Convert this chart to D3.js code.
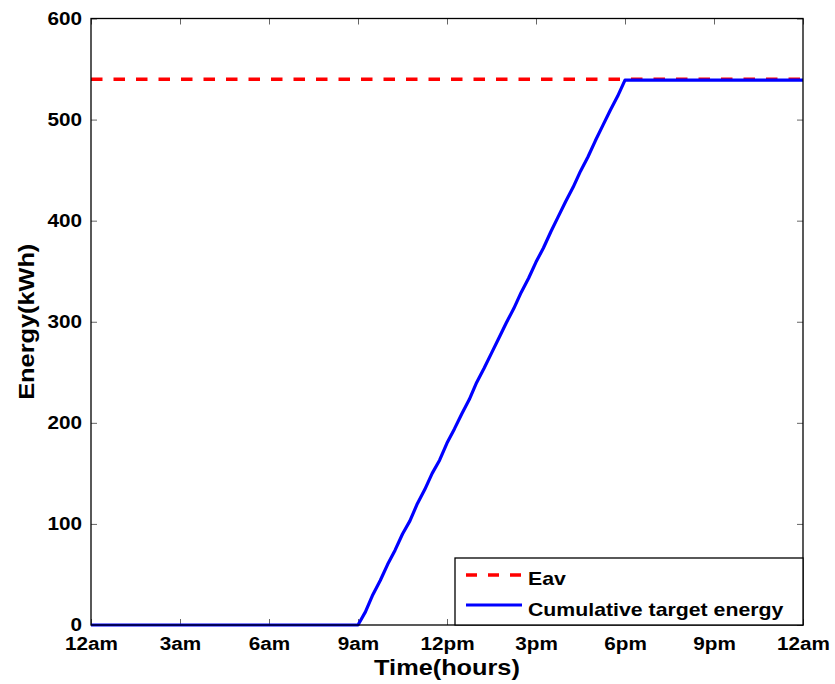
<!DOCTYPE html>
<html><head><meta charset="utf-8">
<script src="https://cdn.jsdelivr.net/npm/d3@7/dist/d3.min.js"></script>
<style>body{margin:0;background:#fff}svg{display:block}text{font-family:"Liberation Sans",Arial,sans-serif;font-weight:bold}</style>
</head><body>
<script>
// Data
const hours = [0, 3, 6, 9, 9.25, 9.5, 9.75, 10, 10.25, 10.5, 10.75, 11, 11.25, 11.5, 11.75, 12, 12.25, 12.5, 12.75, 13, 13.25, 13.5, 13.75, 14, 14.25, 14.5, 14.75, 15, 15.25, 15.5, 15.75, 16, 16.25, 16.5, 16.75, 17, 17.25, 17.5, 17.75, 18, 21, 24];
const cumulative = [0, 0, 0, 0, 13, 30, 44, 60, 74, 90, 103, 120, 134, 150, 163, 180, 194, 209, 223, 240, 254, 269, 284, 299, 313, 329, 343, 359, 373, 389, 404, 419, 433, 449, 463, 479, 494, 509, 523, 539, 539, 539];
const eav = 540;
const xTickValues = [0, 3, 6, 9, 12, 15, 18, 21, 24];
const xTickLabels = ["12am", "3am", "6am", "9am", "12pm", "3pm", "6pm", "9pm", "12am"];
const yTickValues = [0, 100, 200, 300, 400, 500, 600];
const seriesNames = ["Eav", "Cumulative target energy"];

const W = 835, H = 684;
const m = {left: 91, right: 32, top: 18.5, bottom: 59};
const STRETCH = 1.15;
const svg = d3.select("body").append("svg").attr("width", W).attr("height", H);
const x = d3.scaleLinear().domain([0, 24]).range([m.left, W - m.right]);
const y = d3.scaleLinear().domain([0, 600]).range([H - m.bottom, m.top]);

function stretch(sel) {
  sel.each(function() {
    const len = this.getComputedTextLength();
    d3.select(this).attr("textLength", len * STRETCH).attr("lengthAdjust", "spacingAndGlyphs");
  });
}

const g = svg.append("g");
const tickLen = 6;
const bottomAx = d3.axisBottom(x).tickValues(xTickValues).tickSize(-tickLen).tickFormat((d, i) => xTickLabels[i]);
const topAx = d3.axisTop(x).tickValues(xTickValues).tickSize(-tickLen).tickFormat("");
const leftAx = d3.axisLeft(y).tickValues(yTickValues).tickSize(-tickLen).tickFormat(d3.format("d")).tickPadding(9);
const rightAx = d3.axisRight(y).tickValues(yTickValues).tickSize(-tickLen).tickFormat("");

function styleAxis(sel) {
  sel.select(".domain").remove();
  sel.selectAll(".tick line").attr("stroke", "#666").attr("stroke-width", 1);
  sel.selectAll(".tick text").attr("fill", "#000").style("font-size", "18px").style("font-weight", "bold");
}
const gb = g.append("g").attr("transform", `translate(0,${y(0)})`).call(bottomAx).call(styleAxis);
gb.selectAll(".tick text").attr("y", 650 - y(0)).attr("dy", 0);
g.append("g").attr("transform", `translate(0,${y(600)})`).call(topAx).call(styleAxis);
g.append("g").attr("transform", `translate(${x(0)},0)`).call(leftAx).call(styleAxis);
g.append("g").attr("transform", `translate(${x(24)},0)`).call(rightAx).call(styleAxis);
g.selectAll(".tick text").filter(function(){return this.textContent !== "";}).call(stretch);

// Eav line
svg.append("line").attr("x1", x(0)).attr("x2", x(24)).attr("y1", y(eav)).attr("y2", y(eav))
  .attr("stroke", "#ff0000").attr("stroke-width", 3.5).attr("stroke-dasharray", "11.5,11");

// cumulative line
const line = d3.line().x((d, i) => x(hours[i])).y(d => y(d));
svg.append("path").datum(cumulative).attr("d", line).attr("fill", "none")
  .attr("stroke", "#0000ff").attr("stroke-width", 3.2).attr("stroke-linejoin", "round");

// frame
svg.append("rect").attr("x", x(0)).attr("y", y(600)).attr("width", x(24) - x(0)).attr("height", y(0) - y(600))
  .attr("fill", "none").attr("stroke", "#000").attr("stroke-width", 1.3);

// axis titles
svg.append("text").attr("x", (x(0) + x(24)) / 2).attr("y", 675).attr("text-anchor", "middle")
  .style("font-size", "22px").text("Time(hours)").call(stretch);
svg.append("text").attr("transform", `translate(34,${(y(0) + y(600)) / 2}) rotate(-90)`).attr("text-anchor", "middle")
  .style("font-size", "22px").text("Energy(kWh)").call(stretch);

// legend
const lg = svg.append("g");
lg.append("rect").attr("x", 455).attr("y", 558).attr("width", x(24) - 455).attr("height", y(0) - 558)
  .attr("fill", "#fff").attr("stroke", "#000").attr("stroke-width", 1.3);
const legendColors = ["#ff0000", "#0000ff"];
const legendDash = ["11,11", null];
const legendLineY = [575, 605];
const legendTextY = [584.5, 615.5];
seriesNames.forEach((name, i) => {
  lg.append("line").attr("x1", 466).attr("x2", 522).attr("y1", legendLineY[i]).attr("y2", legendLineY[i])
    .attr("stroke", legendColors[i]).attr("stroke-width", i === 0 ? 3.5 : 3.2).attr("stroke-dasharray", legendDash[i]);
  lg.append("text").attr("x", 528).attr("y", legendTextY[i]).style("font-size", "18.5px").text(name).call(stretch);
});
</script>
</body></html>
